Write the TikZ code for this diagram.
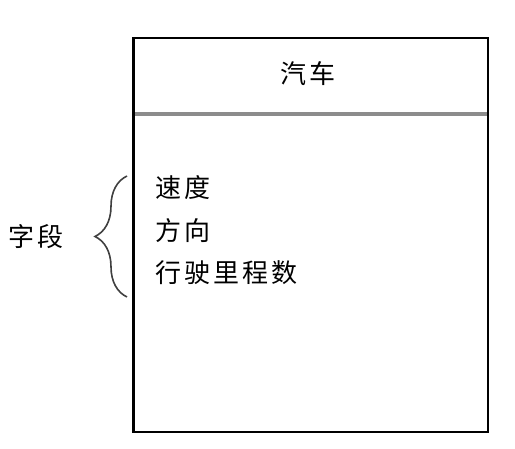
\documentclass[tikz,border=0pt]{standalone}
\usepackage{fontspec}
\newfontfamily\cjk[LetterSpace=12]{Noto Sans CJK SC}
\usetikzlibrary{decorations.pathreplacing}

\begin{document}
\begin{tikzpicture}[x=0.75pt,y=-0.75pt,
  every node/.style={font=\cjk\fontsize{19.5}{20}\selectfont, inner sep=0pt}]
  \useasboundingbox (0,0) rectangle (515,449);

  % class box
  \draw [line width=2pt] (133.5,38) rectangle (488,432);
  \draw [line width=3pt, black!45] (135,114) -- (486.5,114);
  \node (title) at (308,74) { 汽车 };

  % fields
  \node [anchor=west] (speed) at (155,188) { 速度 };
  \node [anchor=west] (heading) at (155,231) { 方向 };
  \node [anchor=west] (mileage) at (155,273) { 行驶里程数 };

  \coordinate (braceTop) at (127,176);
  \coordinate (braceBot) at (127,297);
  \draw [line width=1.2pt, black!75,
         decorate, decoration={brace, amplitude=24pt}] (braceBot) -- (braceTop);
  \node (fields) at (36,237) { 字段 };
\end{tikzpicture}
\end{document}
